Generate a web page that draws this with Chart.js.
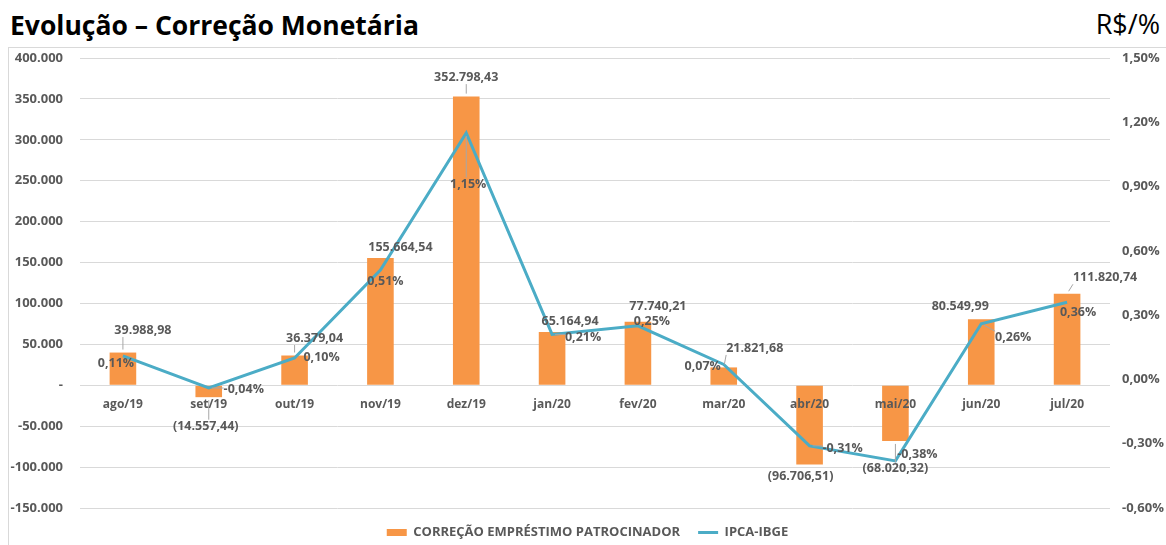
<!DOCTYPE html>
<html><head><meta charset="utf-8">
<script src="https://cdn.jsdelivr.net/npm/chart.js@4"></script>
<style>
html,body{margin:0;padding:0;background:#fff;}
body{width:1166px;height:545px;position:relative;overflow:hidden;font-family:"Open Sans",sans-serif;}
#title{position:absolute;left:10px;top:7px;font-size:26.5px;font-weight:700;color:#000;line-height:36px;white-space:nowrap;}
#unit{position:absolute;right:6px;top:6px;font-size:27px;color:#000;line-height:36px;}
#frame{position:absolute;left:8px;top:47px;width:1158px;height:498px;border-left:1px solid #d9d9d9;border-top:1px solid #d9d9d9;box-sizing:border-box;}
#wrap{position:absolute;left:9px;top:48px;width:1157px;height:497px;}
</style></head>
<body>
<div id="title">Evolução – Correção Monetária</div>
<div id="unit">R$/%</div>
<div id="frame"></div>
<div id="wrap"><canvas id="c"></canvas></div>
<script>
const categories = ['ago/19','set/19','out/19','nov/19','dez/19','jan/20','fev/20','mar/20','abr/20','mai/20','jun/20','jul/20'];
const correcaoValues = [39988.98, -14557.44, 36379.04, 155664.54, 352798.43, 65164.94, 77740.21, 21821.68, -96706.51, -68020.32, 80549.99, 111820.74];
const ipcaValues = [0.11, -0.04, 0.10, 0.51, 1.15, 0.21, 0.25, 0.07, -0.31, -0.38, 0.26, 0.36];
const leftAxisRange = {min: -150000, max: 400000, step: 50000};
const rightAxisRange = {min: -0.6, max: 1.5, step: 0.3};
const seriesNames = ['CORREÇÃO EMPRÉSTIMO PATROCINADOR', 'IPCA-IBGE'];

function fmtBR(v, dec){
  const s = Math.abs(v).toFixed(dec);
  let parts = s.split('.');
  let i = parts[0].replace(/\B(?=(\d{3})+(?!\d))/g, '.');
  return parts[1] ? i + ',' + parts[1] : i;
}
function fmtMoney(v){ return v < 0 ? '(' + fmtBR(v, 2) + ')' : fmtBR(v, 2); }
function fmtPct(v){ const r = Math.round(v*100)/100; return (r < 0 ? '-' : '') + Math.abs(r).toFixed(2).replace('.', ',') + '%'; }
function fmtLeft(v){ if (Math.abs(v) < 1e-9) return '-'; return (v < 0 ? '-' : '') + fmtBR(v, 0); }

const GREY = '#595959';
const FONT = '"Open Sans", sans-serif';
const CLEAR = 'rgba(0,0,0,0)';

const labelPlugin = {
  id: 'dataLabels',
  afterDatasetsDraw(chart, args, opts){
    const ctx = chart.ctx;
    ctx.save();
    ctx.font = 'bold 12.5px ' + FONT;
    ctx.textAlign = 'center';
    ctx.textBaseline = 'middle';
    chart.data.datasets.forEach((ds, di) => {
      const meta = chart.getDatasetMeta(di);
      const offs = opts.offsets[di];
      const fmt = di === 0 ? fmtMoney : fmtPct;
      meta.data.forEach((el, i) => {
        const v = ds.data[i];
        const ax = el.x, ay = el.y;
        const lx = ax + offs[i][0], ly = ay + offs[i][1];
        const text = fmt(v);
        const w = ctx.measureText(text).width, h = 13;
        const cx = Math.max(lx - w/2, Math.min(ax, lx + w/2));
        const cy = Math.max(ly - h/2, Math.min(ay, ly + h/2));
        const dist = Math.hypot(ax - cx, ay - cy);
        if (dist > 9) {
          const k = 3 / dist;
          ctx.beginPath();
          ctx.strokeStyle = '#a6a6a6';
          ctx.lineWidth = 1;
          ctx.moveTo(ax + (cx - ax) * k, ay + (cy - ay) * k);
          ctx.lineTo(cx, cy);
          ctx.stroke();
        }
        ctx.fillStyle = GREY;
        ctx.fillText(text, lx, ly);
      });
    });
    ctx.restore();
  }
};

new Chart(document.getElementById('c'), {
  type: 'bar',
  data: {
    labels: categories,
    datasets: [
      {
        type: 'bar',
        label: seriesNames[0],
        data: correcaoValues,
        backgroundColor: '#F79646',
        borderWidth: 0,
        yAxisID: 'y',
        order: 1,
        barPercentage: 0.62,
        categoryPercentage: 0.5
      },
      {
        type: 'line',
        label: seriesNames[1],
        data: ipcaValues,
        borderColor: '#4BACC6',
        backgroundColor: '#4BACC6',
        borderWidth: 3,
        pointRadius: 0,
        tension: 0,
        yAxisID: 'y1',
        order: 0
      }
    ]
  },
  options: {
    responsive: true,
    maintainAspectRatio: false,
    animation: false,
    layout: {padding: {top: 10, bottom: -4, left: 0, right: 0}},
    plugins: {
      tooltip: {enabled: false},
      legend: {
        position: 'bottom',
        labels: {
          usePointStyle: true,
          pointStyleWidth: 20,
          boxHeight: 7,
          padding: 18,
          color: GREY,
          font: {family: FONT, size: 13, weight: 'bold'},
          sort: (a, b) => a.datasetIndex - b.datasetIndex,
          generateLabels(chart){
            return chart.data.datasets.map((ds, i) => ({
              text: ds.label,
              datasetIndex: i,
              fillStyle: i === 0 ? '#F79646' : '#4BACC6',
              strokeStyle: i === 0 ? '#F79646' : '#4BACC6',
              lineWidth: i === 0 ? 0 : 3,
              pointStyle: i === 0 ? 'rect' : 'line',
              fontColor: GREY,
              hidden: false
            }));
          }
        }
      },
      dataLabels: {
        offsets: [
          [[20,-22],[-3,29],[20,-17],[20,-10],[0,-19],[18,-11],[20,-15],[31,-19],[-9,12],[0,28],[-21,-13],[38,-16]],
          [[-7,8],[35,1],[27,-1],[5,11],[2,51],[31,3],[14,-4],[-21,2],[33,3],[22,-6],[32,14],[11,10]]
        ]
      }
    },
    scales: {
      x: {
        position: {y: 0},
        grid: {display: false, drawTicks: false},
        border: {display: false},
        ticks: {z: 1, color: GREY, font: {family: FONT, size: 12, weight: 'bold'}, padding: 12, maxRotation: 0},
        afterFit(s){ s.height = 0; }
      },
      y: {
        position: 'left',
        min: leftAxisRange.min,
        max: leftAxisRange.max,
        grid: {color: '#d9d9d9', lineWidth: 1, drawTicks: true, tickLength: 17, tickColor: CLEAR},
        border: {display: false},
        ticks: {stepSize: leftAxisRange.step, color: GREY, font: {family: FONT, size: 13, weight: 'bold'}, padding: 0, callback: v => fmtLeft(v)},
        afterFit(s){ s.width = 71; }
      },
      y1: {
        position: 'right',
        min: rightAxisRange.min,
        max: rightAxisRange.max,
        grid: {display: false, drawTicks: true, tickLength: 12, tickColor: CLEAR},
        border: {display: false},
        ticks: {stepSize: rightAxisRange.step, color: GREY, font: {family: FONT, size: 13, weight: 'bold'}, padding: 0, callback: v => fmtPct(v)},
        afterFit(s){ s.width = 56; }
      }
    }
  },
  plugins: [labelPlugin]
});
</script>
</body></html>
